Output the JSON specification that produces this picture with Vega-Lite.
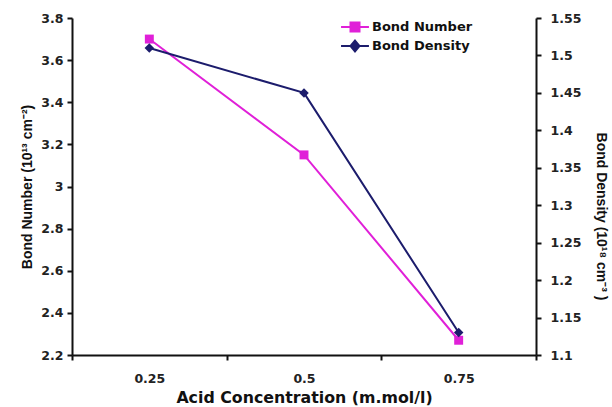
{
  "$schema": "https://vega.github.io/schema/vega-lite/v6.json",
  "autosize": "none",
  "width": 464,
  "height": 337,
  "padding": {"left": 72, "top": 18, "right": 76, "bottom": 52},
  "background": "white",
  "config": {
    "view": {"stroke": null},
    "axis": {
      "domainColor": "#111",
      "domainWidth": 2,
      "tickColor": "#111",
      "tickWidth": 2,
      "tickSize": 5,
      "grid": false,
      "labelFont": "DejaVu Sans",
      "labelFontWeight": "bold",
      "labelFontSize": 12.5,
      "labelColor": "#222",
      "titleFont": "Liberation Sans",
      "titleFontWeight": "bold",
      "titleFontSize": 14,
      "titleColor": "#111"
    }
  },
  "datasets": {
    "main": [
      {"conc": 0.25, "bond_number": 3.7, "bond_density": 1.51},
      {"conc": 0.5, "bond_number": 3.15, "bond_density": 1.45},
      {"conc": 0.75, "bond_number": 2.27, "bond_density": 1.13}
    ],
    "legend": [
      {"series": "Bond Number"},
      {"series": "Bond Density"}
    ]
  },
  "data": {"name": "main"},
  "layer": [
    {
      "encoding": {
        "x": {
          "field": "conc",
          "type": "quantitative",
          "scale": {"domain": [0.125, 0.875], "nice": false, "zero": false},
          "axis": {
            "title": "Acid Concentration (m.mol/l)",
            "titleFont": "DejaVu Sans",
            "titleFontSize": 15.8,
            "titlePadding": 6,
            "values": [0.125, 0.25, 0.375, 0.5, 0.625, 0.75, 0.875],
            "labelExpr": "datum.value == 0.25 ? '0.25' : datum.value == 0.5 ? '0.5' : datum.value == 0.75 ? '0.75' : ''",
            "tickOpacity": {"condition": {"test": "datum.value == 0.25 || datum.value == 0.5 || datum.value == 0.75", "value": 0}, "value": 1},
            "labelPadding": 12
          }
        },
        "y": {
          "field": "bond_number",
          "type": "quantitative",
          "scale": {"domain": [2.2, 3.8], "nice": false, "zero": false},
          "axis": {
            "title": "Bond Number (10¹³ cm⁻²)",
            "values": [2.2, 2.4, 2.6, 2.8, 3.0, 3.2, 3.4, 3.6, 3.8],
            "format": "~g",
            "labelPadding": 4,
            "titlePadding": 6
          }
        }
      },
      "layer": [
        {"mark": {"type": "line", "color": "#e020d8", "strokeWidth": 2}},
        {"mark": {"type": "point", "shape": "square", "filled": true, "opacity": 1, "color": "#e020d8", "size": 80}}
      ]
    },
    {
      "encoding": {
        "x": {"field": "conc", "type": "quantitative"},
        "y": {
          "field": "bond_density",
          "type": "quantitative",
          "scale": {"domain": [1.1, 1.55], "nice": false, "zero": false},
          "axis": {
            "orient": "right",
            "title": "Bond Density (10¹⁸   cm⁻³  )",
            "values": [1.1, 1.15, 1.2, 1.25, 1.3, 1.35, 1.4, 1.45, 1.5, 1.55],
            "format": "~g",
            "labelPadding": 9,
            "titlePadding": 13,
            "titleY": 198
          }
        }
      },
      "layer": [
        {"mark": {"type": "line", "color": "#1c1c6c", "strokeWidth": 2}},
        {"mark": {"type": "point", "shape": "diamond", "filled": true, "opacity": 1, "color": "#1c1c6c", "size": 90}}
      ]
    },
    {
      "data": {"name": "legend"},
      "mark": {"type": "point", "filled": true, "opacity": 0, "size": 324, "strokeWidth": 2},
      "encoding": {
        "fill": {
          "field": "series", "type": "nominal",
          "scale": {"domain": ["Bond Number", "Bond Density"], "range": ["#e020d8", "#1c1c6c"]},
          "legend": {
            "title": null,
            "orient": "none",
            "legendX": 273,
            "legendY": -1,
            "padding": 0,
            "rowPadding": 0,
            "labelOffset": 7,
            "labelFont": "DejaVu Sans",
            "labelFontWeight": "bold",
            "labelFontSize": 13,
            "labelColor": "#111",
            "symbolSize": 324,
            "symbolStrokeWidth": 2,
            "encode": {
              "symbols": {
                "update": {
                  "fill": {"scale": "fill", "field": "value"},
                  "stroke": {"scale": "stroke", "field": "value"}
                }
              }
            }
          }
        },
        "stroke": {
          "field": "series", "type": "nominal",
          "scale": {"domain": ["Bond Number", "Bond Density"], "range": ["#e020d8", "#1c1c6c"]}
        },
        "shape": {
          "field": "series", "type": "nominal",
          "scale": {
            "domain": ["Bond Number", "Bond Density"],
            "range": ["M-1.55,0H1.55M-0.5,-0.5H0.5V0.5H-0.5Z", "M-1.55,0H1.55M0,-0.6L0.5,0L0,0.6L-0.5,0Z"]
          }
        }
      }
    }
  ],
  "resolve": {"scale": {"y": "independent"}}
}
